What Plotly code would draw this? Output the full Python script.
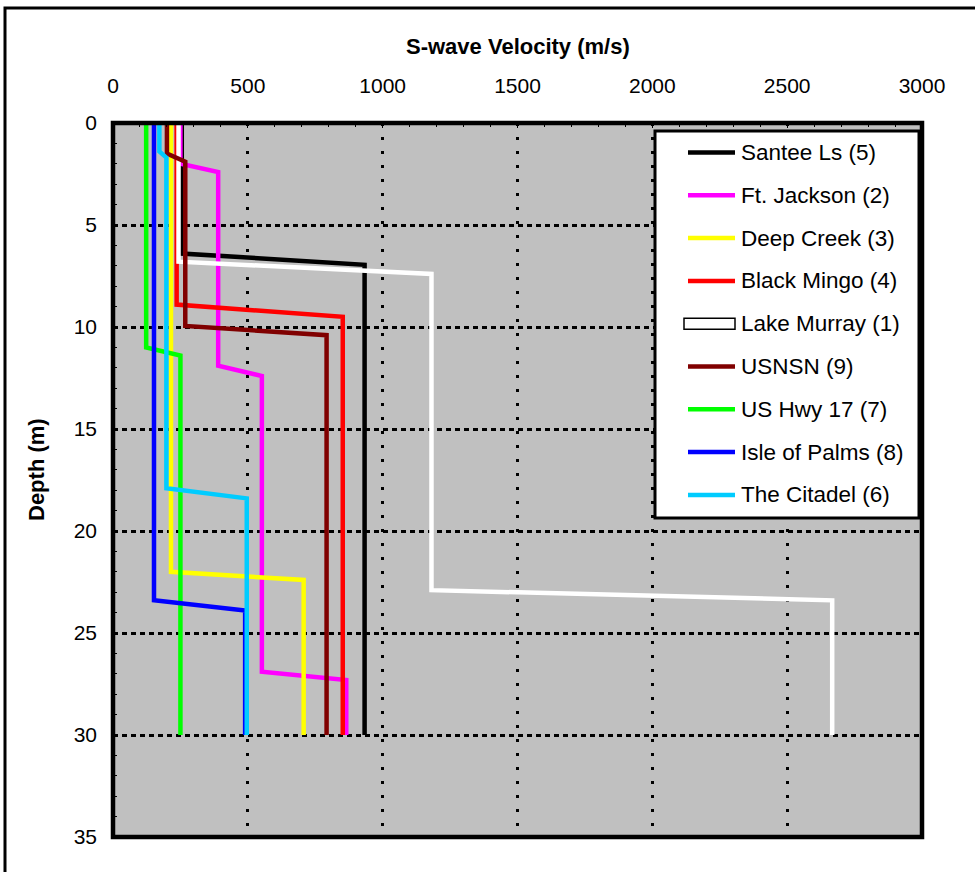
import plotly.graph_objects as go

# ---------------- data ----------------
series_names = ["Santee Ls (5)", "Ft. Jackson (2)", "Deep Creek (3)", "Black Mingo (4)",
                "Lake Murray (1)", "USNSN (9)", "US Hwy 17 (7)", "Isle of Palms (8)",
                "The Citadel (6)"]
series_colors = ["#000000", "#FF00FF", "#FFFF00", "#FF0000", "#FFFFFF",
                 "#800000", "#00FF00", "#0000FF", "#00CCFF"]

santee_v = [255, 255, 933, 933]
santee_d = [0, 6.4, 6.95, 30]
jackson_v = [250, 250, 390, 390, 552, 552, 865, 865]
jackson_d = [0, 2.0, 2.4, 11.9, 12.4, 26.9, 27.3, 30]
deepcreek_v = [215, 215, 707, 707]
deepcreek_d = [0, 22.0, 22.4, 30]
mingo_v = [236, 236, 852, 852]
mingo_d = [0, 8.9, 9.5, 30]
murray_v = [243, 243, 1181, 1181, 2667, 2667]
murray_d = [0, 6.8, 7.4, 22.9, 23.4, 30]
usnsn_v = [200, 200, 268, 268, 792, 792]
usnsn_d = [0, 1.5, 1.9, 9.95, 10.4, 30]
hwy17_v = [123, 123, 250, 250]
hwy17_d = [0, 11.0, 11.4, 30]
palms_v = [152, 152, 490, 490]
palms_d = [0, 23.4, 23.9, 30]
citadel_v = [172, 172, 198, 198, 496, 496]
citadel_d = [0, 1.4, 1.7, 17.9, 18.4, 30]

series_v = [santee_v, jackson_v, deepcreek_v, mingo_v, murray_v, usnsn_v, hwy17_v, palms_v, citadel_v]
series_d = [santee_d, jackson_d, deepcreek_d, mingo_d, murray_d, usnsn_d, hwy17_d, palms_d, citadel_d]

x_ticks = [0, 500, 1000, 1500, 2000, 2500, 3000]
y_ticks = [0, 5, 10, 15, 20, 25, 30, 35]

# ---------------- layout geometry (pixels) ----------------
W, H = 975, 872
PL, PR, PT, PB = 113, 922, 123, 837
FONT = "Arial, Liberation Sans, sans-serif"


def px(xp):
    return (xp - PL) / (PR - PL)


def py(yp):
    return (PB - yp) / (PB - PT)


fig = go.Figure()
for name, col, v, d in zip(series_names, series_colors, series_v, series_d):
    fig.add_trace(go.Scatter(x=v, y=d, mode="lines", name=name,
                             line=dict(color=col, width=4.5), showlegend=False,
                             hoverinfo="x+y+name"))

shapes = []
annotations = []

# outer frame (left & top)
shapes.append(dict(type="rect", xref="paper", yref="paper",
                   x0=px(5), x1=px(W + 20), y0=py(H + 20), y1=py(8),
                   line=dict(color="black", width=3), fillcolor="rgba(0,0,0,0)", layer="above"))
# plot border
shapes.append(dict(type="rect", xref="paper", yref="paper", x0=0, x1=1, y0=0, y1=1,
                   line=dict(color="black", width=4.5), layer="above"))

# legend box
LX0, LX1, LY0, LY1 = 655, 919, 131, 518
shapes.append(dict(type="rect", xref="paper", yref="paper",
                   x0=px(LX0), x1=px(LX1), y0=py(LY1), y1=py(LY0),
                   line=dict(color="black", width=3), fillcolor="white", layer="above"))
entry_y0, entry_dy = 152.5, 42.8
for i, (name, col) in enumerate(zip(series_names, series_colors)):
    yy = entry_y0 + i * entry_dy
    if col.upper() == "#FFFFFF":
        shapes.append(dict(type="rect", xref="paper", yref="paper",
                           x0=px(684), x1=px(735), y0=py(yy + 5.5), y1=py(yy - 5.5),
                           line=dict(color="black", width=1.5), fillcolor="white", layer="above"))
    else:
        shapes.append(dict(type="line", xref="paper", yref="paper",
                           x0=px(688), x1=px(735), y0=py(yy), y1=py(yy),
                           line=dict(color=col, width=4.5), layer="above"))
    annotations.append(dict(xref="paper", yref="paper", x=px(739), y=py(yy),
                            xanchor="left", yanchor="middle", showarrow=False,
                            text=name, font=dict(family=FONT, size=22.5, color="black")))

# axis titles
annotations.append(dict(xref="paper", yref="paper", x=0.5, y=py(47), xanchor="center",
                        yanchor="middle", showarrow=False, text="<b>S-wave Velocity (m/s)</b>",
                        font=dict(family=FONT, size=22, color="black")))
annotations.append(dict(xref="paper", yref="paper", x=px(36), y=py(470), xanchor="center",
                        yanchor="middle", showarrow=False, text="<b>Depth (m)</b>", textangle=-90,
                        font=dict(family=FONT, size=22, color="black")))

fig.update_layout(
    width=W, height=H,
    margin=dict(l=PL, r=W - PR, t=PT, b=H - PB, pad=0),
    paper_bgcolor="white", plot_bgcolor="#C0C0C0",
    shapes=shapes, annotations=annotations, showlegend=False,
    font=dict(family=FONT, size=21, color="black"),
)
fig.update_xaxes(
    side="top", range=[0, 3000], tickvals=x_ticks, ticktext=[str(t) for t in x_ticks],
    showgrid=True, gridcolor="black", gridwidth=2.5, griddash="3px,11px",
    zeroline=False, showline=False, ticks="inside", ticklen=5, tickcolor="black",
    ticklabelstandoff=25, tickfont=dict(family=FONT, size=21, color="black"),
    minor=dict(ticks="inside", dtick=100, ticklen=4, tickcolor="black", showgrid=False),
)
fig.update_yaxes(
    range=[35, 0], tickvals=y_ticks, ticktext=[str(t) for t in y_ticks],
    showgrid=True, gridcolor="black", gridwidth=2.5, griddash="5px,4px",
    zeroline=False, showline=False, ticks="inside", ticklen=5, tickcolor="black",
    ticklabelstandoff=15, tickfont=dict(family=FONT, size=21, color="black"),
    minor=dict(ticks="inside", dtick=1, ticklen=4, tickcolor="black", showgrid=False),
)

fig.write_html("out.html")
